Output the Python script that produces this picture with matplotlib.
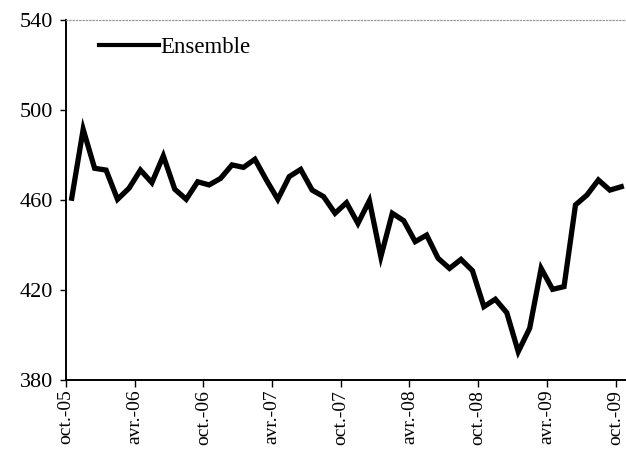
import numpy as np
import matplotlib
matplotlib.use("Agg")
import matplotlib.pyplot as plt
from matplotlib.transforms import ScaledTranslation

plt.rcParams.update({
    "font.family": "serif", "font.serif": ["Liberation Serif", "DejaVu Serif"],
    "figure.facecolor": "white", "axes.facecolor": "white",
})

# monthly series, oct-05 .. oct-09
ensemble = [460.8, 491.4, 474.1, 473.3, 460.3, 465.2, 473.3, 467.7, 479.6, 464.8,
            460.3, 468.1, 466.7, 469.6, 475.6, 474.5, 478.1, 468.9, 460.3, 470.4,
            473.6, 464.4, 461.5, 454.1, 458.8, 449.6, 459.7, 434.8, 454.1, 450.8,
            441.5, 444.4, 434.1, 429.6, 433.6, 428.6, 412.6, 415.9, 409.9, 392.6,
            403.0, 429.6, 420.3, 421.5, 457.8, 462.2, 468.9, 464.4, 465.9]
tick_labels = ["oct.-05", "avr.-06", "oct.-06", "avr.-07", "oct.-07",
               "avr.-08", "oct.-08", "avr.-09", "oct.-09"]

fig = plt.figure(figsize=(6.26, 4.49), dpi=100)
ax = fig.add_axes([66 / 626, 1 - 380 / 449, 561 / 626, 360 / 449])

x = np.arange(len(ensemble))
ax.plot(x, ensemble, color="black", linewidth=3.8, solid_joinstyle="miter", label="Ensemble")

ax.set_xlim(-0.5, 48.5)
ax.set_ylim(380, 540)
ax.set_yticks([380, 420, 460, 500, 540])
ax.set_xticks(np.arange(len(tick_labels)) * 6 - 0.5)
ax.set_xticklabels(tick_labels, rotation=90, va="top", ha="center")
for lab in ax.get_xticklabels():
    lab.set_transform(lab.get_transform() + ScaledTranslation(4 / 100, 0, fig.dpi_scale_trans))

ax.tick_params(axis="y", labelsize=16, length=4, width=1, direction="out", pad=5, colors="black")
ax.tick_params(axis="x", labelsize=14, length=5, width=1, direction="out", pad=2, colors="black")

for s in ["left", "bottom"]:
    ax.spines[s].set_color("black")
    ax.spines[s].set_linewidth(1.4)
for s in ["top", "right"]:
    ax.spines[s].set_color("#9a9a9a")
    ax.spines[s].set_linewidth(0.9)
    ax.spines[s].set_linestyle(":")

leg = ax.legend(loc="upper left", bbox_to_anchor=(0.035, 0.99), frameon=False, fontsize=16.5,
                handlelength=2.6, handletextpad=0.05, borderaxespad=0.2)
for h in leg.get_lines():
    h.set_linewidth(3)

fig.savefig("out.png", dpi=100)
